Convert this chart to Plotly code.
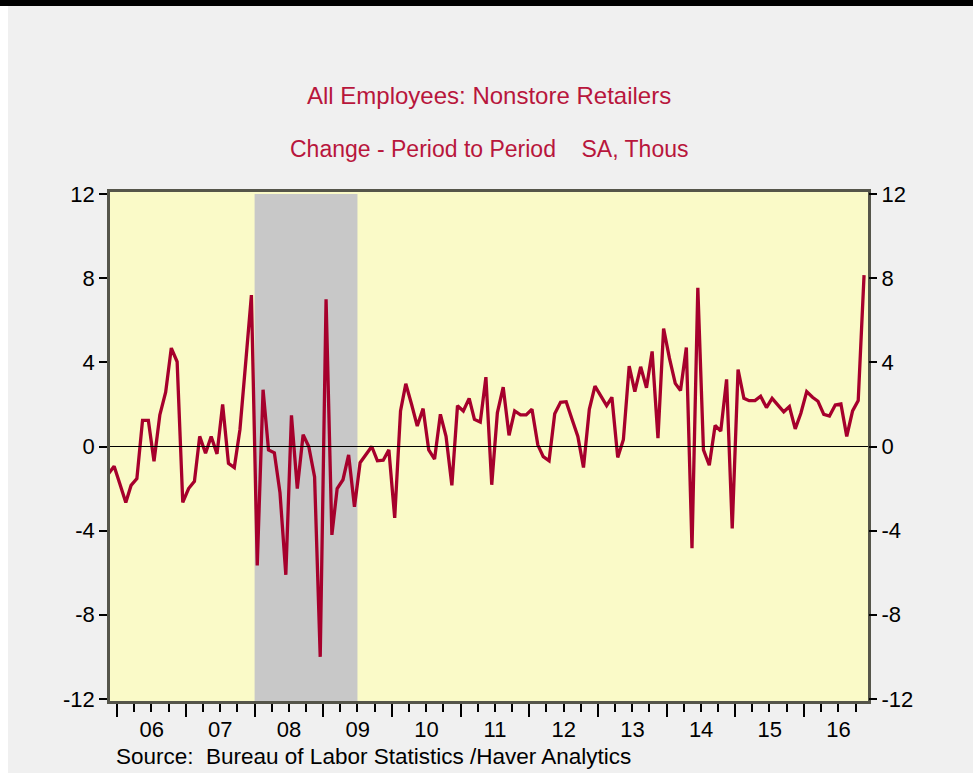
import pandas as pd
import plotly.graph_objects as go

# Monthly change, SA, thousands (Nov 2005 - Nov 2016)
v2005 = [-1.3, -0.94]
v2006 = [-1.8, -2.66, -1.85, -1.53, 1.24, 1.24, -0.7, 1.5, 2.58, 4.68, 4.03, -2.66]
v2007 = [-2.0, -1.66, 0.48, -0.32, 0.48, -0.35, 2.0, -0.8, -1.0, 0.8, 4.03, 7.2]
v2008 = [-5.65, 2.7, -0.16, -0.3, -2.2, -6.1, 1.48, -2.0, 0.56, 0.0, -1.45, -10.0]
v2009 = [7.0, -4.2, -2.0, -1.58, -0.4, -2.87, -0.77, -0.4, 0.0, -0.68, -0.65, -0.16]
v2010 = [-3.39, 1.69, 2.98, 2.0, 0.97, 1.8, -0.16, -0.6, 1.53, 0.48, -1.85, 1.94]
v2011 = [1.69, 2.29, 1.29, 1.16, 3.3, -1.82, 1.6, 2.82, 0.53, 1.69, 1.5, 1.5]
v2012 = [1.77, 0.08, -0.48, -0.68, 1.56, 2.1, 2.13, 1.3, 0.48, -1.0, 1.77, 2.87]
v2013 = [2.4, 1.94, 2.34, -0.52, 0.32, 3.82, 2.61, 3.79, 2.79, 4.52, 0.4, 5.61]
v2014 = [4.2, 3.0, 2.66, 4.71, -4.84, 7.55, -0.16, -0.89, 1.0, 0.73, 3.19, -3.9]
v2015 = [3.66, 2.29, 2.18, 2.18, 2.39, 1.85, 2.29, 1.94, 1.65, 1.9, 0.84, 1.58]
v2016 = [2.61, 2.34, 2.15, 1.53, 1.45, 1.97, 2.02, 0.48, 1.69, 2.18, 8.15]

values = v2005 + v2006 + v2007 + v2008 + v2009 + v2010 + v2011 + v2012 + v2013 + v2014 + v2015 + v2016
start_month = "2005-11-01"
dates = pd.date_range(start=start_month, periods=len(values), freq="MS") + pd.Timedelta(days=14)

recession_start = "2008-01-01"
recession_end = "2009-07-01"

y_tickvals = [-12, -8, -4, 0, 4, 8, 12]
y_ticktext = ["-12", "-8", "-4", "0", "4", "8", "12"]

title_text = "All Employees: Nonstore Retailers"
subtitle_text = "Change - Period to Period&nbsp;&nbsp;&nbsp;&nbsp;SA, Thous"
source_text = "Source:&nbsp;&nbsp;Bureau of Labor Statistics /Haver Analytics"

FONT = "Liberation Sans, Arial, sans-serif"
LINE_COLOR = "#a6002c"
TITLE_COLOR = "#b8163c"

# plot-area geometry in pixels (for paper-coordinate placement)
PT, PB, PL, PR = 192, 701, 110, 868
PH, PW = PB - PT, PR - PL

def py(pix):
    return (PB - pix) / PH

def px(pix):
    return (pix - PL) / PW

fig = go.Figure()
fig.add_trace(go.Scatter(x=dates, y=values, mode="lines",
                         line=dict(color=LINE_COLOR, width=3.3),
                         showlegend=False, hoverinfo="x+y"))
fig.add_trace(go.Scatter(x=dates, y=values, mode="lines", yaxis="y2",
                         line=dict(color="rgba(0,0,0,0)", width=0),
                         showlegend=False, hoverinfo="skip"))

# recession shading
fig.add_shape(type="rect", xref="x", yref="y", x0=recession_start, x1=recession_end,
              y0=-12.1, y1=12.0, fillcolor="#c8c8c8", line=dict(width=0), layer="below")
# zero line
fig.add_shape(type="line", xref="paper", yref="y", x0=0, x1=1, y0=0, y1=0,
              line=dict(color="black", width=1.2))
# page frame: black band at top, white strips at left and bottom
fig.add_shape(type="rect", xref="paper", yref="paper",
              x0=px(-10), x1=px(990), y0=py(6), y1=py(-10),
              fillcolor="black", line=dict(width=0))
fig.add_shape(type="rect", xref="paper", yref="paper",
              x0=px(-10), x1=px(8), y0=py(790), y1=py(6),
              fillcolor="white", line=dict(width=0))
fig.add_shape(type="rect", xref="paper", yref="paper",
              x0=px(-10), x1=px(990), y0=py(790), y1=py(773),
              fillcolor="white", line=dict(width=0))

fig.add_annotation(text=title_text, xref="paper", yref="paper", x=px(489), y=py(95),
                   showarrow=False, font=dict(family=FONT, size=24, color=TITLE_COLOR),
                   xanchor="center", yanchor="middle")
fig.add_annotation(text=subtitle_text, xref="paper", yref="paper", x=px(489), y=py(149),
                   showarrow=False, font=dict(family=FONT, size=23, color=TITLE_COLOR),
                   xanchor="center", yanchor="middle")
fig.add_annotation(text=source_text, xref="paper", yref="paper", x=px(114),
                   y=py(756), showarrow=False,
                   font=dict(family=FONT, size=22.5, color="black"),
                   xanchor="left", yanchor="middle")

axis_line = dict(showline=True, linecolor="#55554a", linewidth=2.5)

fig.update_layout(
    width=973, height=779,
    margin=dict(l=PL, r=973 - PR, t=PT, b=779 - PB),
    paper_bgcolor="#f0f0f0",
    plot_bgcolor="#fafac8",
    font=dict(family=FONT, size=22, color="black"),
    xaxis=dict(
        type="date",
        range=["2005-11-23", "2016-12-06"],
        dtick="M12", tick0="2006-01-01",
        tickformat="%y", ticklabelmode="period",
        ticks="outside", ticklen=13, tickwidth=1.5, tickcolor="black",
        ticklabelstandoff=-6,
        minor=dict(dtick="M3", tick0="2006-01-01", ticks="outside", ticklen=8,
                   tickwidth=1.5, tickcolor="black", showgrid=False),
        showgrid=False, zeroline=False, mirror=True,
        tickfont=dict(family=FONT, size=22, color="black"),
        **axis_line,
    ),
    yaxis=dict(
        range=[-12.1, 12.1],
        tickvals=y_tickvals, ticktext=y_ticktext,
        ticks="outside", ticklen=8, tickwidth=1.5, tickcolor="black",
        showgrid=False, zeroline=False, mirror=True,
        tickfont=dict(family=FONT, size=22, color="black"),
        **axis_line,
    ),
    yaxis2=dict(
        range=[-12.1, 12.1], overlaying="y", side="right",
        tickvals=y_tickvals, ticktext=y_ticktext,
        ticks="outside", ticklen=8, tickwidth=1.5, tickcolor="black",
        showgrid=False, zeroline=False, showline=False,
        tickfont=dict(family=FONT, size=22, color="black"),
    ),
)

fig.write_html("out.html", config={"displayModeBar": False},
               post_script="document.body.style.margin='0';")
